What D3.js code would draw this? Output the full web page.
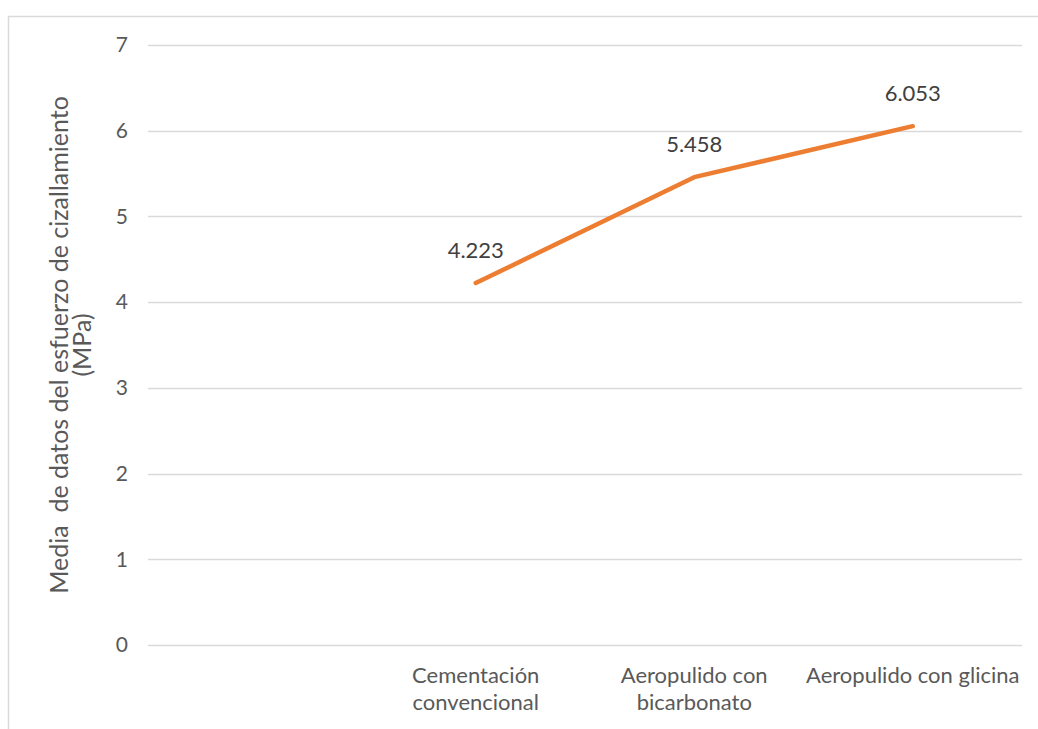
<!DOCTYPE html>
<html lang="en">
<head>
<meta charset="UTF-8">
<title>Media de datos del esfuerzo de cizallamiento</title>
<script src="https://cdn.jsdelivr.net/npm/d3@7"></script>
<style>
    body { margin: 0; background: #fff; }
    svg { display: block; font-family: Lato, "Open Sans", sans-serif; }
</style>
</head>
<body>
<div id="chart"></div>
<script>
    const categories = ["", "Cementación convencional", "Aeropulido con bicarbonato", "Aeropulido con glicina"];
    const categoryLines = [[], ["Cementación", "convencional"], ["Aeropulido con", "bicarbonato"], ["Aeropulido con glicina"]];
    const values = [null, 4.223, 5.458, 6.053];
    const yTicks = [0, 1, 2, 3, 4, 5, 6, 7];

    const width = 1038, height = 729;
    const plot = { left: 148, right: 1022, top: 45, bottom: 645 };

    const svg = d3.select("#chart").append("svg")
        .attr("width", width).attr("height", height);

    // chart area border
    svg.append("rect")
        .attr("x", 8.5).attr("y", 16.5)
        .attr("width", 1040).attr("height", 720)
        .attr("fill", "none").attr("stroke", "#d9d9d9").attr("stroke-width", 1.5);

    const x = d3.scaleBand().domain(categories).range([plot.left, plot.right]);
    const y = d3.scaleLinear().domain([0, 7]).range([plot.bottom, plot.top]);

    // gridlines
    svg.append("g").selectAll("line")
        .data(yTicks)
        .join("line")
        .attr("x1", plot.left).attr("x2", plot.right)
        .attr("y1", d => Math.round(y(d)) + 0.5).attr("y2", d => Math.round(y(d)) + 0.5)
        .attr("stroke", "#d9d9d9").attr("stroke-width", 1.5);

    // y axis labels
    const yAxis = svg.append("g")
        .attr("transform", `translate(${plot.left - 20},0)`)
        .call(d3.axisLeft(y).tickValues(yTicks).tickSize(0).tickPadding(0).tickFormat(d3.format("d")));
    yAxis.select(".domain").remove();
    yAxis.selectAll("text")
        .attr("font-size", 21).attr("fill", "#595959")
        .attr("font-family", "Lato, 'Open Sans', sans-serif");

    // x axis labels
    const xLab = svg.append("g").selectAll("text")
        .data(categories.map((c, i) => ({ c, lines: categoryLines[i] })))
        .join("text")
        .attr("text-anchor", "middle")
        .attr("font-size", 22).attr("fill", "#595959");
    xLab.selectAll("tspan")
        .data(d => d.lines.map(l => ({ l, c: d.c })))
        .join("tspan")
        .attr("x", d => x(d.c) + x.bandwidth() / 2)
        .attr("y", (d, i) => 683 + i * 27)
        .text(d => d.l);

    // y axis title
    svg.append("text")
        .attr("transform", "translate(68,345) rotate(-90)")
        .attr("text-anchor", "middle")
        .attr("font-size", 25).attr("fill", "#595959")
        .selectAll("tspan")
        .data(["Media  de datos del esfuerzo de cizallamiento", "(MPa)"])
        .join("tspan")
        .attr("x", 0)
        .attr("dy", (d, i) => i === 0 ? 0 : 23)
        .attr("xml:space", "preserve")
        .text(d => d);

    // line
    const pts = categories.map((c, i) => ({ c, v: values[i] })).filter(d => d.v !== null);
    const line = d3.line()
        .x(d => x(d.c) + x.bandwidth() / 2)
        .y(d => y(d.v));
    svg.append("path")
        .datum(pts)
        .attr("d", line)
        .attr("fill", "none")
        .attr("stroke", "#ed7d31")
        .attr("stroke-width", 4.5)
        .attr("stroke-linecap", "round")
        .attr("stroke-linejoin", "round");

    // data labels
    svg.append("g").selectAll("text")
        .data(pts)
        .join("text")
        .attr("x", d => x(d.c) + x.bandwidth() / 2)
        .attr("y", d => y(d.v) - 25)
        .attr("text-anchor", "middle")
        .attr("font-size", 22).attr("fill", "#404040")
        .text(d => d3.format(".3f")(d.v));
</script>
</body>
</html>
